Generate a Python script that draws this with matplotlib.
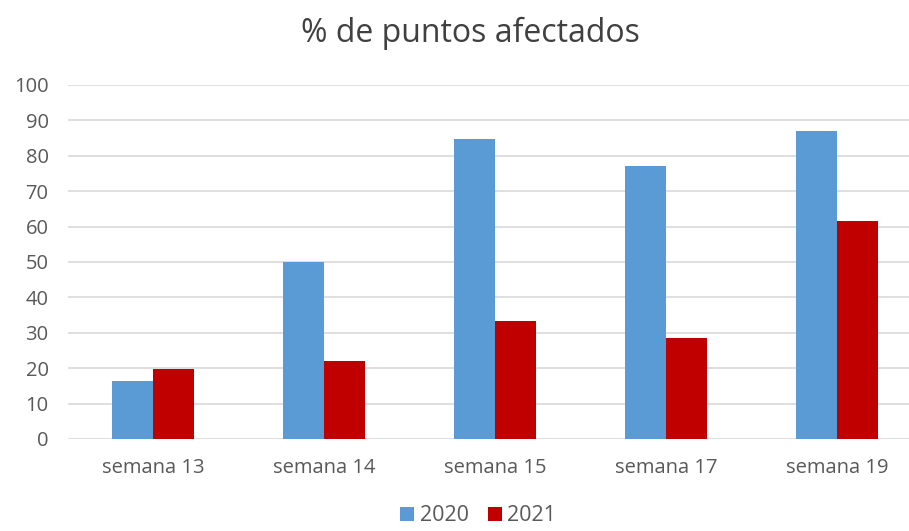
import numpy as np
import matplotlib.pyplot as plt

plt.rcParams['font.family'] = ['Open Sans', 'DejaVu Sans']

categorias = ['semana 13', 'semana 14', 'semana 15', 'semana 17', 'semana 19']
valores_2020 = [16.5, 50, 84.8, 77.2, 87.0]
valores_2021 = [19.8, 22.1, 33.3, 28.6, 61.6]
series = ['2020', '2021']
colores = ['#5B9BD5', '#C00000']

fig = plt.figure(figsize=(9.09, 5.31), dpi=100)
ax = fig.add_axes([0.0748, 0.1733, 0.9252, 0.6667])

x = np.arange(len(categorias))
ancho = 0.24
ax.bar(x - ancho / 2, valores_2020, ancho, color=colores[0], label=series[0], zorder=3)
ax.bar(x + ancho / 2, valores_2021, ancho, color=colores[1], label=series[1], zorder=3)

ax.set_ylim(0, 100)
ax.set_yticks(range(0, 101, 10))
ax.set_xlim(-0.5, 4.42)
ax.set_xticks(x)
ax.set_xticklabels(categorias)
ax.yaxis.grid(True, color='#D9D9D9', linewidth=1.2, zorder=0)
for s in ax.spines.values():
    s.set_visible(False)
ax.tick_params(axis='both', length=0, colors='#595959')
ax.tick_params(axis='y', labelsize=14.5, pad=14)
ax.tick_params(axis='x', labelsize=14.5, pad=14)

fig.text(0.518, 0.938, '% de puntos afectados', ha='center', va='center',
         fontsize=23, color='#404040')

fig.legend(loc='lower center', bbox_to_anchor=(0.526, -0.028), ncol=2, frameon=False,
           fontsize=15.5, handlelength=0.65, handleheight=0.65, handletextpad=0.25,
           columnspacing=0.9, labelcolor='#595959')

fig.savefig('out.png', dpi=100)
